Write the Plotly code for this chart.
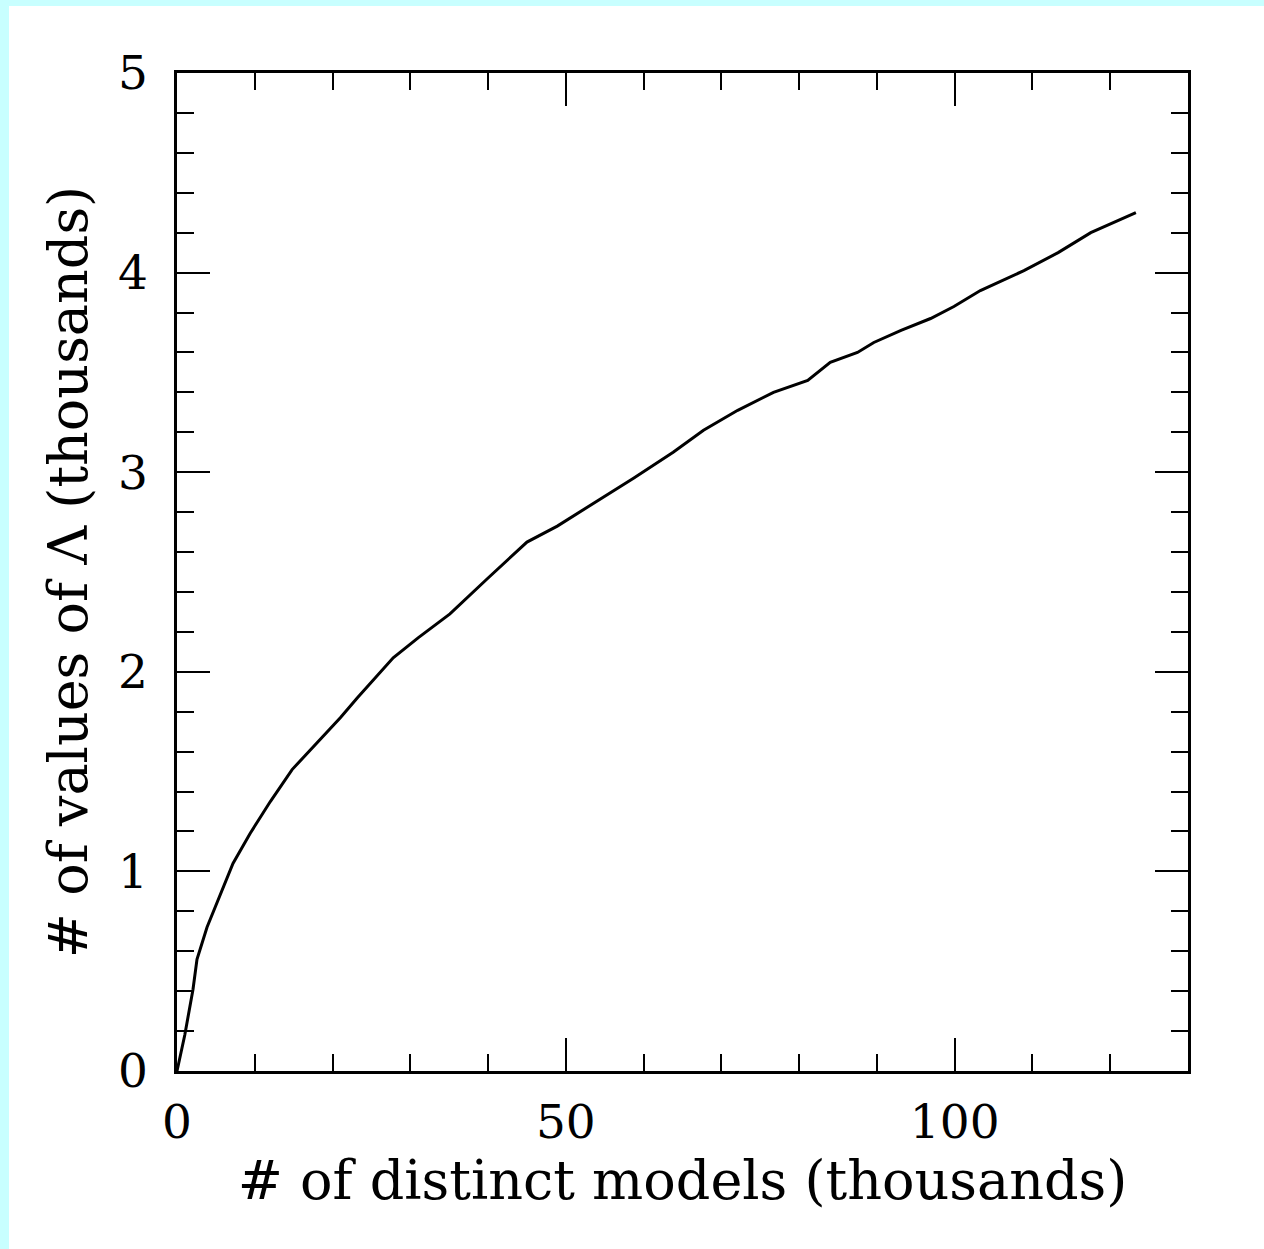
import plotly.graph_objects as go

# data (thousands)
models_k = [0, 1.0, 2.06, 2.57, 3.86, 5.5, 7.2, 9.4, 12, 14.8, 16.7, 20, 21, 23.2, 27.8, 31,
            35.1, 40, 45.0, 48.9, 53, 58.7, 63.8, 67.7, 72.1, 76.7, 81.1, 84.0, 87.5, 89.6,
            93.1, 96.9, 99.9, 103.3, 108.9, 113.3, 117.5, 120.5, 123.3]
values_k = [0, 0.18, 0.41, 0.56, 0.72, 0.88, 1.04, 1.19, 1.35, 1.51, 1.59, 1.73, 1.77, 1.87, 2.07, 2.17,
            2.29, 2.47, 2.65, 2.73, 2.83, 2.97, 3.10, 3.21, 3.31, 3.40, 3.46, 3.55, 3.60, 3.65,
            3.71, 3.77, 3.83, 3.91, 4.01, 4.10, 4.20, 4.25, 4.30]

x_title = "# of distinct models (thousands)"
y_title = "# of values of Λ (thousands)"

W, H = 1264, 1249
L, R, T, B = 177, 76, 73, 178
pw, ph = W - L - R, H - T - B

fig = go.Figure()
fig.add_trace(go.Scatter(x=models_k, y=values_k, mode="lines",
                         line=dict(color="black", width=3), showlegend=False,
                         hoverinfo="skip"))

font_family = "DejaVu Serif"
axis_common = dict(
    showgrid=False, zeroline=False, showline=True, linecolor="black", linewidth=2.5,
    mirror="ticks", ticks="inside", ticklen=33, tickwidth=2, tickcolor="black",
    tickfont=dict(family=font_family, size=47, color="black"),
)

fig.update_xaxes(range=[0, 130], tickvals=[0, 50, 100], ticklabelstandoff=8,
                 minor=dict(dtick=10, ticklen=17, tickwidth=2, tickcolor="black", ticks="inside"),
                 title=dict(text=x_title, font=dict(family=font_family, size=54, color="black"),
                            standoff=8),
                 **axis_common)
fig.update_yaxes(range=[0, 5], tickvals=[0, 1, 2, 3, 4, 5], ticklabelstandoff=17,
                 minor=dict(dtick=0.2, ticklen=17, tickwidth=2, tickcolor="black", ticks="inside"),
                 title=dict(text=y_title, font=dict(family=font_family, size=54, color="black"),
                            standoff=14),
                 **axis_common)

cyan = "#c8ffff"
fig.update_layout(
    width=W, height=H,
    margin=dict(l=L, r=R, t=T, b=B),
    paper_bgcolor="white", plot_bgcolor="white",
    shapes=[
        dict(type="rect", xref="paper", yref="paper", layer="below",
             x0=-L / pw, x1=(9 - L) / pw, y0=-B / ph, y1=(T + ph) / ph + T / ph,
             fillcolor=cyan, line=dict(width=0)),
        dict(type="rect", xref="paper", yref="paper", layer="below",
             x0=-L / pw, x1=(W - L) / pw, y0=(ph + T - 6) / ph, y1=(ph + T) / ph,
             fillcolor=cyan, line=dict(width=0)),
    ],
)

fig.write_html("out.html")
